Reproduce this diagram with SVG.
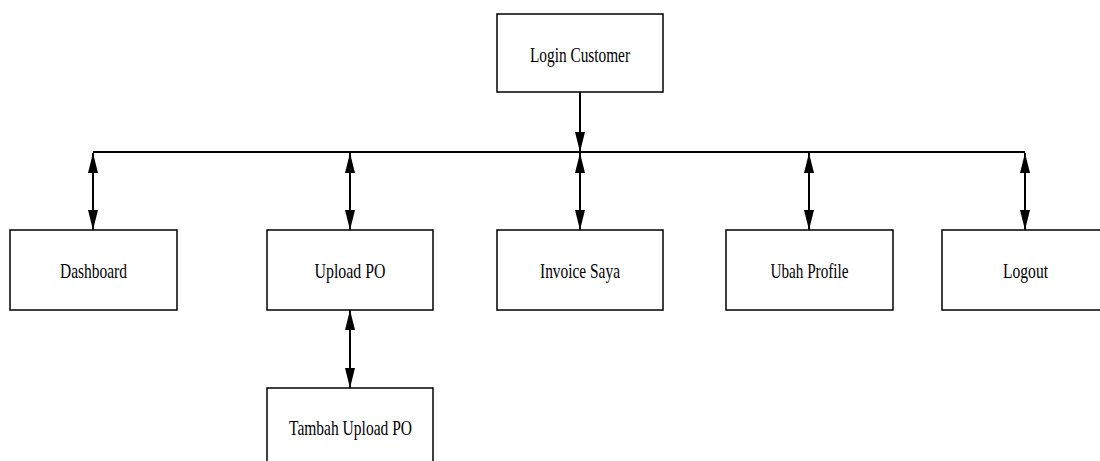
<svg xmlns="http://www.w3.org/2000/svg" width="1100" height="461" viewBox="0 0 1100 461">
<defs>
<marker id="ah" viewBox="0 0 20 10" refX="20" refY="5" markerWidth="20" markerHeight="10" markerUnits="userSpaceOnUse" orient="auto-start-reverse">
<path d="M0,0 L20,5 L0,10 Z" fill="#000"/>
</marker>
<style>
.box{fill:#fff;stroke:#000;stroke-width:1.5}
.lbl{font-family:"Liberation Serif","Times New Roman",serif;font-size:21px;fill:#000;text-anchor:middle}
.con{stroke:#000;stroke-width:2;fill:none}
</style>
</defs>
<rect width="1100" height="461" fill="#fff"/>
<g id="connectors">
<line class="con" x1="580" y1="92" x2="580" y2="152" marker-end="url(#ah)"/>
<line class="con" x1="93" y1="152" x2="1025" y2="152"/>
<line class="con" x1="93" y1="153" x2="93" y2="230" marker-start="url(#ah)" marker-end="url(#ah)"/>
<line class="con" x1="350" y1="153" x2="350" y2="230" marker-start="url(#ah)" marker-end="url(#ah)"/>
<line class="con" x1="580" y1="153" x2="580" y2="230" marker-start="url(#ah)" marker-end="url(#ah)"/>
<line class="con" x1="809" y1="153" x2="809" y2="230" marker-start="url(#ah)" marker-end="url(#ah)"/>
<line class="con" x1="1025" y1="153" x2="1025" y2="230" marker-start="url(#ah)" marker-end="url(#ah)"/>
<line class="con" x1="350" y1="310" x2="350" y2="388" marker-start="url(#ah)" marker-end="url(#ah)"/>
</g>
<g id="login">
<rect class="box" x="497" y="14" width="166" height="78"/>
<text class="lbl" x="580" y="62" textLength="100" lengthAdjust="spacingAndGlyphs">Login Customer</text>
</g>
<g id="dashboard">
<rect class="box" x="10" y="230" width="167" height="80"/>
<text class="lbl" x="93.5" y="278" textLength="67" lengthAdjust="spacingAndGlyphs">Dashboard</text>
</g>
<g id="uploadpo">
<rect class="box" x="267" y="230" width="166" height="80"/>
<text class="lbl" x="350" y="278" textLength="71" lengthAdjust="spacingAndGlyphs">Upload PO</text>
</g>
<g id="invoice">
<rect class="box" x="497" y="230" width="166" height="80"/>
<text class="lbl" x="580" y="278" textLength="80" lengthAdjust="spacingAndGlyphs">Invoice Saya</text>
</g>
<g id="ubahprofile">
<rect class="box" x="726" y="230" width="167" height="80"/>
<text class="lbl" x="809.5" y="278" textLength="78" lengthAdjust="spacingAndGlyphs">Ubah Profile</text>
</g>
<g id="logout">
<rect class="box" x="942" y="230" width="166" height="80"/>
<text class="lbl" x="1025.5" y="278" textLength="45" lengthAdjust="spacingAndGlyphs">Logout</text>
</g>
<g id="tambahuploadpo">
<rect class="box" x="267" y="388" width="166" height="80"/>
<text class="lbl" x="350.5" y="435" textLength="123" lengthAdjust="spacingAndGlyphs">Tambah Upload PO</text>
</g>
</svg>
